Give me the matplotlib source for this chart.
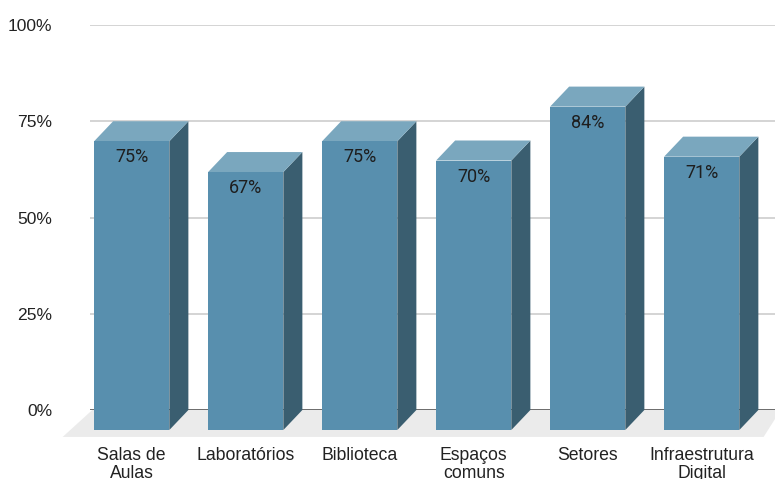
import matplotlib
matplotlib.use("Agg")
import matplotlib.pyplot as plt
from matplotlib.patches import Polygon

categories = ["Salas de\nAulas", "Laboratórios", "Biblioteca", "Espaços\ncomuns",
              "Setores", "Infraestrutura\nDigital"]
values = [75, 67, 75, 70, 84, 71]
yticks = [0, 25, 50, 75, 100]
ytick_labels = ["0%", "25%", "50%", "75%", "100%"]

FRONT = "#588fae"
TOP = "#7aa7be"
SIDE = "#3a5e70"

fig = plt.figure(figsize=(7.75, 4.79), dpi=100)
ax = fig.add_axes([90 / 775, 69 / 479, 685 / 775, 385 / 479])
ax.set_xlim(-0.366, 5.643)
ax.set_ylim(0, 100)
for s in ax.spines.values():
    s.set_visible(False)

# 3D offsets (back plane is the value plane, front face shifted down-left)
dx, dy = 0.167, 5.2
hw = 0.33

# floor
x0, x1 = ax.get_xlim()
floor = Polygon([(x0 + 0.02, 0), (x1 + 0.05, 0), (x1 - 0.1, -7.0), (x0 - 0.24, -7.0)],
                closed=True, facecolor="#ebebeb", edgecolor="none",
                clip_on=False, zorder=1)
ax.add_patch(floor)

# grid
for t in yticks[1:]:
    ax.axhline(t, color="#d4d4d4", lw=1.4, zorder=0)
ax.axhline(0, color="#6b6b6b", lw=1.4, zorder=2)

for i, v in enumerate(values):
    xl, xr = i - hw, i + hw
    front = Polygon([(xl, -dy), (xr, -dy), (xr, v - dy), (xl, v - dy)],
                    facecolor=FRONT, edgecolor="none", clip_on=False, zorder=4)
    side = Polygon([(xr, -dy), (xr + dx, 0), (xr + dx, v), (xr, v - dy)],
                   facecolor=SIDE, edgecolor="none", clip_on=False, zorder=3)
    top = Polygon([(xl, v - dy), (xr, v - dy), (xr + dx, v), (xl + dx, v)],
                  facecolor=TOP, edgecolor="none", clip_on=False, zorder=3)
    for p in (side, top, front):
        ax.add_patch(p)
    ax.text(i, v - dy - 4.2, f"{v}%", ha="center", va="center",
            fontsize=13, family="Roboto", color="#1e1e1e", zorder=5)
    ax.annotate(categories[i], xy=(i, 0), xycoords=("data", "axes fraction"),
                xytext=(0, -37), textcoords="offset pixels", ha="center", va="top",
                fontsize=12.7, family="Liberation Sans", color="#222222",
                linespacing=1.05, annotation_clip=False)

ax.set_xticks([])
ax.set_yticks(yticks)
ax.set_yticklabels(ytick_labels, fontsize=12.6, family="Liberation Sans", color="#222222")
ax.tick_params(axis="y", length=0, pad=27)

fig.savefig("out.png", dpi=100)
